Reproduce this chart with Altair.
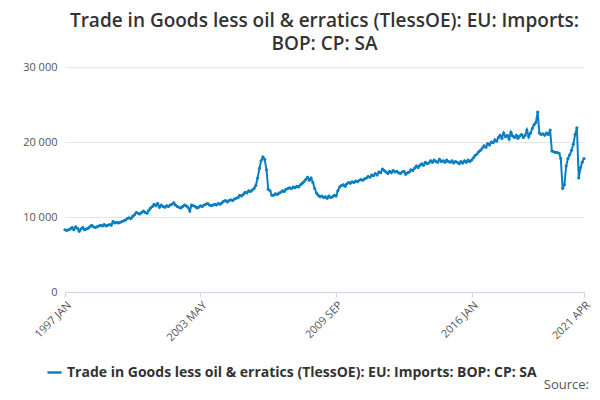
import altair as alt
import pandas as pd

values = [
 8.3,8.2,8.3,8.4,8.6,8.3,8.7,8.5,8.1,8.4,8.6,8.3,          # 1997
 8.4,8.5,8.7,8.9,8.7,8.6,8.7,8.8,8.9,8.8,9.0,8.8,          # 1998
 8.9,9.0,8.9,9.4,9.2,9.3,9.2,9.3,9.4,9.5,9.6,9.8,          # 1999
 9.9,9.8,10.1,10.3,10.6,10.5,10.4,10.6,10.8,10.6,10.5,10.9, # 2000
 11.2,11.4,11.7,11.5,11.8,11.3,11.6,11.4,11.3,11.5,11.4,11.6, # 2001
 11.7,11.9,11.6,11.4,11.3,11.2,11.4,11.6,11.5,11.3,10.8,11.6, # 2002
 11.5,11.4,11.2,11.3,11.5,11.4,11.6,11.7,11.8,11.6,11.5,11.6, # 2003
 11.7,11.6,11.8,11.7,11.9,12.1,12.2,12.0,12.2,12.3,12.2,12.4, # 2004
 12.5,12.6,12.9,12.8,13.0,13.3,13.2,13.5,13.4,13.6,13.8,14.2, # 2005
 15.2,16.5,17.5,18.0,17.7,16.3,13.7,13.5,12.9,12.9,13.1,13.0, # 2006
 13.2,13.3,13.5,13.4,13.7,13.8,13.9,13.8,14.0,13.9,14.1,14.0, # 2007
 14.3,14.5,14.7,15.0,15.3,14.9,15.2,14.6,13.8,13.2,12.9,12.7, # 2008
 12.8,12.6,12.7,12.5,12.8,12.6,12.7,12.9,12.8,13.5,14.0,14.2, # 2009
 14.3,14.1,14.4,14.6,14.5,14.7,14.6,14.8,14.7,14.9,15.0,14.9, # 2010
 15.1,15.2,15.4,15.3,15.6,15.5,15.8,15.6,16.0,15.9,16.4,16.2, # 2011
 16.0,15.8,16.1,15.9,16.2,16.0,16.1,15.9,15.8,16.0,16.1,15.7, # 2012
 15.9,16.0,16.3,16.2,16.5,16.8,16.6,16.9,17.1,16.9,17.3,17.1, # 2013
 17.2,17.5,17.3,17.6,17.4,17.3,17.7,17.4,17.5,17.3,17.6,17.4, # 2014
 17.3,17.5,17.2,17.4,17.3,17.1,17.4,17.2,17.5,17.3,17.6,17.4, # 2015
 17.6,17.9,18.2,18.4,18.7,18.9,19.2,19.5,19.3,19.8,19.6,20.0, # 2016
 19.9,20.3,20.1,20.6,20.9,20.5,21.2,20.7,20.9,20.4,21.3,20.8, # 2017
 20.6,20.9,20.5,20.8,21.0,20.6,20.9,21.6,20.7,21.2,21.8,22.3, # 2018
 22.6,24.0,21.2,21.0,21.1,20.9,21.2,21.0,21.6,18.8,18.7,18.6, # 2019
 18.6,18.5,17.8,13.8,14.3,16.8,17.8,18.3,18.9,19.7,21.0,21.9, # 2020
 15.2,16.6,17.3,17.8,                                         # 2021
]
dates = pd.date_range("1997-01-01", "2021-04-01", freq="MS")
series_name = "Trade in Goods less oil & erratics (TlessOE): EU: Imports: BOP: CP: SA"
df = pd.DataFrame({"date": dates, "value": [v * 1000 for v in values]})
df["series"] = series_name

tick_dates = ["1997-01-01", "2003-05-01", "2009-09-01", "2016-01-01", "2021-04-01"]
col = "#0a7fc2"

base = alt.Chart(df).encode(
    x=alt.X("date:T", title=None,
            scale=alt.Scale(domain=["1997-01-01", "2021-04-01"]),
            axis=alt.Axis(values=[pd.Timestamp(d).isoformat() for d in tick_dates],
                          labelExpr="upper(timeFormat(datum.value, '%Y %b'))",
                          labelAngle=-45, labelAlign="right", labelColor="#555",
                          labelFontSize=11, domainColor="#ccd6eb", tickColor="#ccd6eb",
                          grid=False, labelPadding=2)),
    y=alt.Y("value:Q", title=None,
            scale=alt.Scale(domain=[0, 30000]),
            axis=alt.Axis(values=[0, 10000, 20000, 30000],
                          labelExpr="replace(format(datum.value, ','), ',', ' ')",
                          labelColor="#555", labelFontSize=11, domain=False, ticks=False,
                          gridColor="#e6e6e6", labelPadding=8)),
    color=alt.Color("series:N", scale=alt.Scale(range=[col]),
                    legend=alt.Legend(title=None, orient="none", legendX=-19, legendY=297,
                                      labelFontSize=14, labelFontWeight="bold",
                                      labelColor="#333", labelLimit=600,
                                      symbolType="stroke", symbolStrokeWidth=2.5,
                                      symbolSize=200)),
)
line = base.mark_line(strokeWidth=2, point=alt.OverlayMarkDef(size=10, filled=True))

src = alt.Chart(pd.DataFrame({"t": ["Source:"]})).mark_text(
    align="right", baseline="middle", fontSize=13, color="#555", font="Open Sans"
).encode(text="t:N", x=alt.value(524), y=alt.value(318))

chart = alt.layer(line, src).properties(
    width=519, height=225,
    title=alt.Title(["Trade in Goods less oil & erratics (TlessOE): EU: Imports:", "BOP: CP: SA"],
                    fontSize=19, fontWeight=600, color="#333", font="Open Sans",
                    anchor="middle", offset=7, lineHeight=23),
    autosize=alt.AutoSizeParams(type="none"),
    padding={"left": 57, "top": 59, "right": 8, "bottom": 100},
).configure(font="Open Sans").configure_view(stroke=None)

chart.save("out.html", embed_options={"renderer": "svg", "actions": False})
